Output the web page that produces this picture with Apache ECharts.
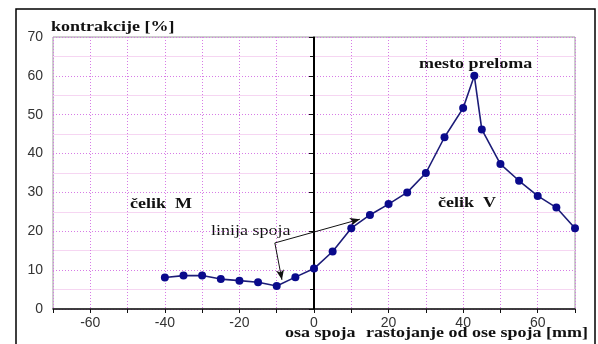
<!DOCTYPE html>
<html lang="sr">
<head>
    <meta charset="UTF-8">
    <title>kontrakcije</title>
    <script src="https://cdn.jsdelivr.net/npm/echarts@6.0.0/dist/echarts.min.js"></script>
    <style>
        html, body { margin: 0; padding: 0; background: #fff; }
        #chart { width: 598px; height: 344px; }
    </style>
</head>
<body>
    <div id="chart"></div>
    <script>
        // rastojanje od ose spoja [mm] i kontrakcija [%]
        const distances = [-40, -35, -30, -25, -20, -15, -10, -5, 0, 5, 10, 15, 20, 25, 30, 35, 40, 43, 45, 50, 55, 60, 65, 70];
        const contraction = [8.1, 8.6, 8.6, 7.7, 7.3, 6.9, 5.9, 8.2, 10.4, 14.8, 20.8, 24.2, 27.0, 30.0, 35.0, 44.2, 51.7, 60.0, 46.2, 37.3, 33.0, 29.1, 26.1, 20.8];
        const xTickLabels = [-60, -40, -20, 0, 20, 40, 60];
        const yTickLabels = [0, 10, 20, 30, 40, 50, 60, 70];

        const arrowTail = [-10.5, 17];
        const arrowHeads = [[-8.6, 7.5], [12.3, 23.1]];

        const sans = 'Liberation Sans';
        const pink = '#d77be6';
        const lightPink = '#f6d6f2';

        // the source picture is stretched sideways, so texts are widened a bit
        function label(text, x, y, bold) {
            return {
                type: 'text', x: x, y: y, scaleX: 1.2,
                style: {
                    text: text, x: 0, y: 0, verticalAlign: 'middle',
                    font: (bold ? 'bold ' : '') + '15px "Liberation Serif"', fill: '#111'
                }
            };
        }

        const chart = echarts.init(document.getElementById('chart'));
        chart.setOption({
            animation: false,
            grid: { left: 53, right: 23, top: 37, bottom: 35, show: true, borderColor: '#9a9a9a', borderWidth: 1 },
            xAxis: {
                type: 'value', min: -70, max: 70, interval: 10,
                axisLine: { onZero: false, lineStyle: { color: '#111', width: 1.5 } },
                axisTick: { length: 4, lineStyle: { color: '#111' } },
                axisLabel: {
                    margin: 7, color: '#333', fontFamily: sans, fontSize: 14,
                    formatter: v => xTickLabels.includes(v) ? String(v) : ''
                },
                splitLine: { show: true, lineStyle: { color: pink, type: [1, 2], width: 1 } }
            },
            yAxis: {
                type: 'value', min: 0, max: 70, interval: 10,
                axisLine: { show: true, lineStyle: { color: '#111', width: 1.5 } },
                axisTick: { show: true, length: 5, lineStyle: { color: '#111' } },
                minorTick: { show: true, splitNumber: 2, length: 4, lineStyle: { color: '#111' } },
                axisLabel: {
                    margin: 10, color: '#333', fontFamily: sans, fontSize: 14,
                    formatter: v => yTickLabels.includes(v) ? String(v) : ''
                },
                splitLine: { show: true, lineStyle: { color: pink, type: [1, 2], width: 1 } },
                minorSplitLine: { show: true, lineStyle: { color: lightPink, type: 'solid', width: 1 } }
            },
            series: [{
                type: 'line',
                data: distances.map((d, i) => [d, contraction[i]]),
                symbol: 'circle',
                symbolSize: 8,
                lineStyle: { color: '#1c1c78', width: 1.6 },
                itemStyle: { color: '#0a0a8c' },
                z: 5,
                markLine: {
                    silent: true,
                    animation: false,
                    label: { show: false },
                    data: [
                        [{ coord: [0, 0], symbol: 'none' }, { coord: [0, 70], symbol: 'none', lineStyle: { color: '#000', width: 2, type: 'solid' } }],
                        [{ coord: arrowTail, symbol: 'none' }, { coord: arrowHeads[0], symbol: 'arrow', symbolSize: [6, 10], lineStyle: { color: '#111', width: 1, type: 'solid' } }],
                        [{ coord: arrowTail, symbol: 'none' }, { coord: arrowHeads[1], symbol: 'arrow', symbolSize: [6, 10], lineStyle: { color: '#111', width: 1, type: 'solid' } }]
                    ]
                }
            }],
            graphic: [
                { type: 'rect', shape: { x: 16, y: 9, width: 579, height: 345 }, style: { fill: 'none', stroke: '#000', lineWidth: 1.5 }, z: 0 },
                label('kontrakcije [%]', 51, 27, true),
                label('mesto preloma', 419, 64, true),
                label('čelik  M', 130, 204, true),
                label('čelik  V', 438, 203, true),
                label('linija spoja', 211, 231, false),
                label('osa spoja', 285, 333, true),
                label('rastojanje od ose spoja [mm]', 366, 333, true)
            ]
        });
    </script>
</body>
</html>
